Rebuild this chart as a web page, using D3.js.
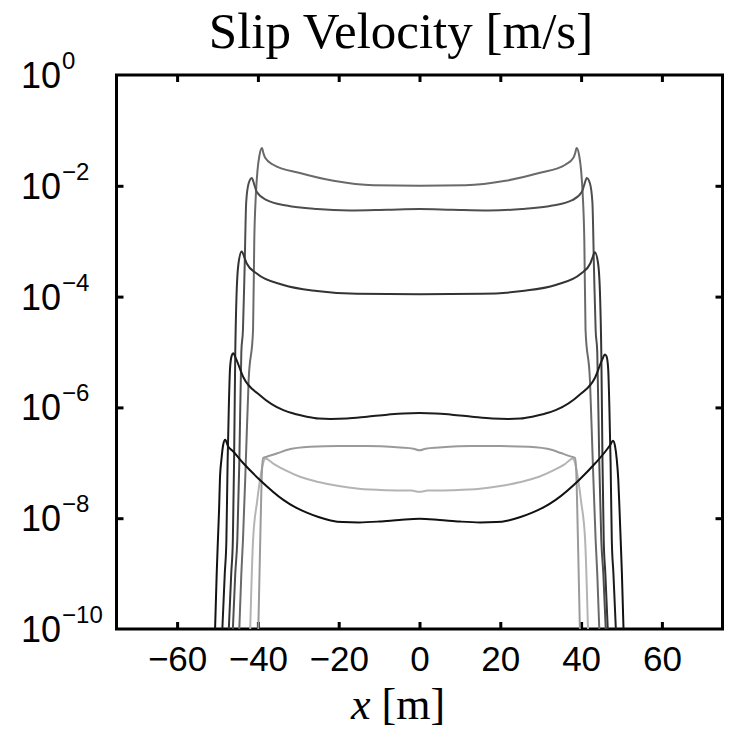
<!DOCTYPE html>
<html>
<head>
<meta charset="utf-8">
<script src="https://cdn.jsdelivr.net/npm/d3@7"></script>
<style>
  html, body { margin: 0; padding: 0; background: #fff; }
  svg { display: block; }
</style>
</head>
<body>
<svg id="chart" width="729" height="730"></svg>
<script>
// Slip velocity profiles along the fault, one per time snapshot: [x (m), V (m/s)]
const profileA = [[-50.6,1e-10],[-50.2,1e-9],[-49.9,4e-9],[-49.6,1.5e-8],[-49.4,5e-8],[-49.0,1.2e-7],[-48.6,2.1e-7],[-48.1,2.6e-7],[-47.4,2.0e-7],[-46.1,1.6e-7],[-43.6,9.8e-8],[-39.5,4.9e-8],[-33.7,2.14e-8],[-30.8,1.58e-8],[-27.9,1.26e-8],[-25,1.05e-8],[-22,9.1e-9],[-19,8.5e-9],[-15,8.4e-9],[-10,8.7e-9],[-5,9.3e-9],[0,9.8e-9],[5,9.3e-9],[10,8.7e-9],[15,8.4e-9],[19,8.5e-9],[22,9.1e-9],[25,1.05e-8],[27.9,1.26e-8],[30.8,1.58e-8],[33.7,2.14e-8],[39.5,4.9e-8],[43.5,9.8e-8],[46.0,1.6e-7],[47.2,2.1e-7],[47.9,2.5e-7],[48.4,2.0e-7],[48.8,1.2e-7],[49.2,5e-8],[49.5,1.5e-8],[49.8,4e-9],[50.1,1e-9],[50.5,1e-10]];
const profileB = [[-48.8,1e-10],[-48.2,1e-9],[-47.8,4e-9],[-47.5,1e-7],[-47.2,1e-6],[-46.9,5e-6],[-46.5,8.5e-6],[-46.1,9.5e-6],[-45.4,7.5e-6],[-43.6,3.5e-6],[-39.5,1.66e-6],[-33.7,8.9e-7],[-30.8,7.6e-7],[-27.9,6.8e-7],[-25,6.3e-7],[-22,6.2e-7],[-18,6.3e-7],[-13,6.8e-7],[-8,7.4e-7],[-4,7.8e-7],[0,7.9e-7],[4,7.8e-7],[8,7.4e-7],[13,6.8e-7],[18,6.3e-7],[22,6.2e-7],[25,6.3e-7],[27.9,6.8e-7],[30.8,7.6e-7],[33.7,8.9e-7],[39.5,1.66e-6],[43.5,3.5e-6],[45.2,7.2e-6],[45.9,9.0e-6],[46.3,8.3e-6],[46.7,5e-6],[47.0,1e-6],[47.3,1e-7],[47.6,4e-9],[48.0,1e-9],[48.6,1e-10]];
const profileC = [[-47.2,1e-10],[-46.6,1e-9],[-46.2,4e-9],[-45.9,1e-7],[-45.6,1e-5],[-45.3,1e-4],[-44.8,4.0e-4],[-44.0,6.5e-4],[-43.3,5.0e-4],[-42.8,4.0e-4],[-40.3,2.6e-4],[-33.7,1.62e-4],[-25.4,1.26e-4],[-15.5,1.12e-4],[0,1.1e-4],[15.5,1.12e-4],[25.4,1.26e-4],[33.7,1.62e-4],[40.0,2.6e-4],[42.3,4.0e-4],[42.8,5.0e-4],[43.4,6.3e-4],[44.2,4.0e-4],[44.7,1e-4],[45.0,1e-5],[45.3,1e-7],[45.6,4e-9],[46.0,1e-9],[46.6,1e-10]];
const profileD = [[-46.2,1e-10],[-45.6,1e-9],[-45.1,4e-9],[-44.6,1e-7],[-44.1,1e-5],[-43.7,2.5e-5],[-43.3,3e-4],[-42.9,5e-3],[-42.3,1.1e-2],[-41.5,1.38e-2],[-40.9,1.05e-2],[-40.3,7.8e-3],[-37.8,5.5e-3],[-32.9,4.4e-3],[-25.4,3.8e-3],[-17.2,3.6e-3],[-8,3.7e-3],[0,3.8e-3],[8,3.7e-3],[17.2,3.6e-3],[25.4,3.8e-3],[32.9,4.4e-3],[37.8,5.5e-3],[40.2,7.8e-3],[40.8,1.05e-2],[41.4,1.38e-2],[42.2,1.1e-2],[42.8,5e-3],[43.2,3e-4],[43.6,2.5e-5],[44.0,1e-5],[44.5,1e-7],[45.0,4e-9],[45.5,1e-9],[46.1,1e-10]];
const profileE = [[-44.6,1e-10],[-44.1,1e-9],[-43.7,4e-9],[-43.0,1e-7],[-42.3,3e-6],[-41.2,2.5e-5],[-40.9,1e-3],[-40.5,7e-3],[-40.1,1.9e-2],[-39.6,3.6e-2],[-39.0,4.8e-2],[-38.6,3.8e-2],[-38.2,3.2e-2],[-36.2,2.4e-2],[-29.6,1.7e-2],[-21.3,1.23e-2],[-11.4,1.02e-2],[0,1.0e-2],[11.4,1.02e-2],[21.3,1.23e-2],[29.6,1.7e-2],[36.1,2.4e-2],[38.1,3.2e-2],[38.5,3.8e-2],[38.9,4.8e-2],[39.5,3.6e-2],[40.0,1.9e-2],[40.4,7e-3],[40.8,1e-3],[41.1,2.5e-5],[42.2,3e-6],[42.9,1e-7],[43.6,4e-9],[44.0,1e-9],[44.5,1e-10]];
const profileF = [[-39.9,1e-10],[-39.6,1e-9],[-39.3,1e-8],[-39.0,7e-8],[-38.7,1.23e-7],[-37.8,1.29e-7],[-35,1.5e-7],[-32.9,1.7e-7],[-27.1,1.95e-7],[-20,2.0e-7],[-13.1,2.0e-7],[-4.8,1.88e-7],[-1.5,1.8e-7],[0,1.68e-7],[1.5,1.8e-7],[4.8,1.88e-7],[13.1,2.0e-7],[20,2.0e-7],[27.1,1.95e-7],[32.9,1.7e-7],[35,1.5e-7],[37.6,1.29e-7],[38.5,1.23e-7],[38.8,7e-8],[39.1,1e-8],[39.4,1e-9],[39.7,1e-10]];
const profileG = [[-41.9,1e-10],[-41.2,4e-9],[-40.2,2e-8],[-39.3,6e-8],[-38.6,1.05e-7],[-38.2,1.2e-7],[-36,9.5e-8],[-33,7.2e-8],[-29.6,5.6e-8],[-25,4.5e-8],[-20,3.8e-8],[-15,3.4e-8],[-8,3.2e-8],[-2,3.15e-8],[0,3.0e-8],[2,3.15e-8],[8,3.2e-8],[15,3.4e-8],[20,3.8e-8],[25,4.5e-8],[29.6,5.6e-8],[33,7.2e-8],[36,9.5e-8],[38.0,1.2e-7],[38.4,1.05e-7],[39.1,6e-8],[40.0,2e-8],[41.0,4e-9],[41.7,1e-10]];

// Axis ticks
const xTicks = [-60, -40, -20, 0, 20, 40, 60];
const yTickExponents = [0, -2, -4, -6, -8, -10];

// Drawing order (light first) with line shades
const profiles = [
  { data: profileG, color: "#b4b4b4" },
  { data: profileF, color: "#9a9a9a" },
  { data: profileE, color: "#6a6a6a" },
  { data: profileD, color: "#4e4e4e" },
  { data: profileC, color: "#333333" },
  { data: profileB, color: "#1c1c1c" },
  { data: profileA, color: "#111111" }
];

const svg = d3.select("#chart");
const plotLeft = 116.5, plotRight = 722.5, plotTop = 75, plotBottom = 629;

const x = d3.scaleLinear().domain([-75, 75]).range([plotLeft, plotRight]);
const y = d3.scaleLog().domain([1e-10, 1]).range([plotBottom, plotTop]);

// Title
svg.append("text")
  .attr("x", 401).attr("y", 48)
  .attr("text-anchor", "middle")
  .attr("font-family", "'Liberation Serif', 'DejaVu Serif', serif")
  .attr("font-size", 51)
  .attr("fill", "#000")
  .text("Slip Velocity [m/s]");

// Frame
svg.append("rect")
  .attr("x", plotLeft).attr("y", plotTop)
  .attr("width", plotRight - plotLeft).attr("height", plotBottom - plotTop)
  .attr("fill", "none").attr("stroke", "#000").attr("stroke-width", 3);

const tickFont = "'Liberation Sans', Arial, Helvetica, sans-serif";

// Bottom axis with labels
const xAxis = svg.append("g")
  .attr("transform", `translate(0,${plotBottom})`)
  .call(d3.axisBottom(x).tickValues(xTicks).tickSize(-7).tickPadding(17)
    .tickFormat(d => d < 0 ? "\u2212" + Math.abs(d) : String(d)));
xAxis.select(".domain").remove();
xAxis.selectAll(".tick line").attr("stroke", "#000").attr("stroke-width", 3);
xAxis.selectAll(".tick text").attr("font-family", tickFont).attr("font-size", 35).attr("fill", "#000");

// Top axis ticks only
const xTop = svg.append("g")
  .attr("transform", `translate(0,${plotTop})`)
  .call(d3.axisTop(x).tickValues(xTicks).tickSize(-7).tickFormat(""));
xTop.select(".domain").remove();
xTop.selectAll(".tick line").attr("stroke", "#000").attr("stroke-width", 3);

// Left / right ticks
const yTickVals = yTickExponents.slice(1, -1).map(e => Math.pow(10, e));
const yLeft = svg.append("g")
  .attr("transform", `translate(${plotLeft},0)`)
  .call(d3.axisLeft(y).tickValues(yTickVals).tickSize(-7).tickFormat(""));
yLeft.select(".domain").remove();
yLeft.selectAll(".tick line").attr("stroke", "#000").attr("stroke-width", 3);
const yRight = svg.append("g")
  .attr("transform", `translate(${plotRight},0)`)
  .call(d3.axisRight(y).tickValues(yTickVals).tickSize(-7).tickFormat(""));
yRight.select(".domain").remove();
yRight.selectAll(".tick line").attr("stroke", "#000").attr("stroke-width", 3);

// Power-of-ten labels
const yLab = svg.append("g").attr("font-family", tickFont).attr("fill", "#000");
yTickExponents.forEach(e => {
  const t = yLab.append("text")
    .attr("x", 21)
    .attr("y", y(Math.pow(10, e)) + 13)
    .attr("font-size", 36);
  t.append("tspan").text("10");
  t.append("tspan")
    .attr("dx", 1).attr("dy", -19)
    .attr("font-size", 24)
    .text(e < 0 ? "\u2212" + Math.abs(e) : String(e));
});

// Profiles
svg.append("clipPath").attr("id", "plotClip")
  .append("rect").attr("x", plotLeft).attr("y", plotTop)
  .attr("width", plotRight - plotLeft).attr("height", plotBottom - plotTop + 2);

const line = d3.line()
  .x(d => x(d[0]))
  .y(d => y(d[1]))
  .curve(d3.curveMonotoneX);

svg.append("g").attr("clip-path", "url(#plotClip)")
  .selectAll("path")
  .data(profiles)
  .join("path")
  .attr("d", p => line(p.data))
  .attr("fill", "none")
  .attr("stroke", p => p.color)
  .attr("stroke-width", 2)
  .attr("stroke-linejoin", "round");

// x-axis label
const xl = svg.append("text")
  .attr("x", 398).attr("y", 719)
  .attr("text-anchor", "middle")
  .attr("font-family", "'Liberation Serif', 'DejaVu Serif', serif")
  .attr("font-size", 44)
  .attr("fill", "#000");
xl.append("tspan").attr("font-style", "italic").text("x");
xl.append("tspan").text(" [m]");
</script>
</body>
</html>
